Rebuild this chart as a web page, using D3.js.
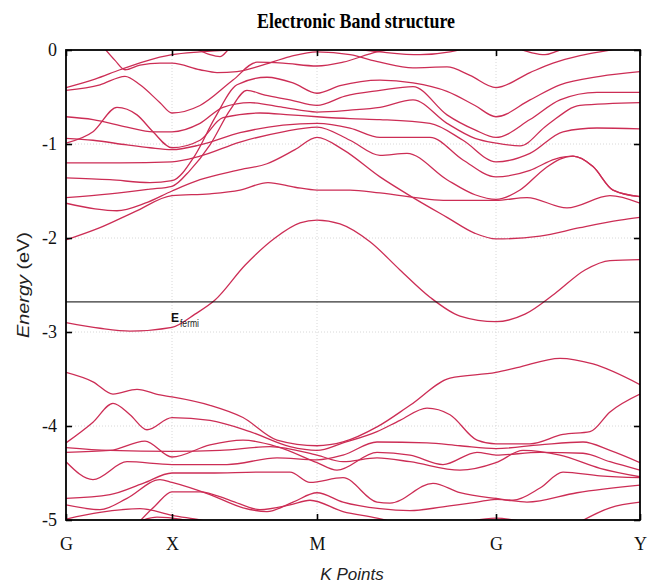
<!DOCTYPE html>
<html><head><meta charset="utf-8">
<script src="https://cdn.jsdelivr.net/npm/d3@7/dist/d3.min.js"></script>
<style>body{margin:0;background:#fff;} svg{display:block;}</style>
</head><body>
<svg id="chart" width="650" height="584"></svg>
<script>
// ---- data ----
const kPointLabels = ["G", "X", "M", "G", "Y"];
const kPointPositions = [0, 1.06, 2.51, 4.30, 5.74];
const energyTicks = [0, -1, -2, -3, -4, -5];
const fermiEnergy = -2.68;

// conduction-side bands: [k, E(eV)]
const conductionBands = [
  [[0,-2.90],[0.34,-2.96],[0.64,-2.99],[1.06,-2.95],[1.29,-2.81],[1.49,-2.66],[1.79,-2.29],[2.09,-2.00],[2.34,-1.84],[2.51,-1.81],[2.74,-1.85],[3.04,-2.04],[3.34,-2.34],[3.64,-2.63],[3.94,-2.83],[4.30,-2.89],[4.59,-2.81],[4.89,-2.59],[5.19,-2.34],[5.44,-2.24],[5.74,-2.23]],
  [[0,-2.02],[0.34,-1.89],[0.69,-1.72],[1.06,-1.55],[1.44,-1.53],[1.74,-1.49],[2.02,-1.41],[2.29,-1.46],[2.51,-1.49],[2.84,-1.49],[3.14,-1.52],[3.81,-1.60],[4.30,-1.60],[4.61,-1.57],[5.01,-1.68],[5.44,-1.55],[5.74,-1.63]],
  [[0,-1.63],[0.29,-1.69],[0.51,-1.71],[0.79,-1.63],[1.06,-1.50],[1.34,-1.38],[1.71,-1.28],[2.01,-1.21],[2.29,-1.06],[2.51,-0.93],[2.77,-1.06],[3.14,-1.35],[3.47,-1.57],[3.81,-1.78],[4.09,-1.95],[4.30,-2.01],[4.74,-1.98],[5.14,-1.89],[5.54,-1.81],[5.74,-1.78]],
  [[0,-1.57],[0.44,-1.53],[0.84,-1.48],[1.06,-1.45],[1.24,-1.28],[1.44,-1.01],[1.64,-0.64],[1.81,-0.43],[1.99,-0.48],[2.24,-0.53],[2.51,-0.59],[2.79,-0.49],[3.14,-0.43],[3.47,-0.39],[3.81,-0.69],[4.09,-0.85],[4.30,-0.93],[4.64,-0.74],[4.94,-0.53],[5.31,-0.45],[5.74,-0.45]],
  [[0,-1.36],[0.44,-1.38],[0.84,-1.41],[1.06,-1.39],[1.29,-1.12],[1.49,-0.72],[1.71,-0.37],[2.01,-0.29],[2.27,-0.35],[2.51,-0.46],[2.74,-0.38],[3.14,-0.32],[3.47,-0.35],[3.81,-0.44],[4.09,-0.59],[4.30,-0.71],[4.64,-0.53],[4.94,-0.37],[5.34,-0.28],[5.74,-0.23]],
  [[0,-0.71],[0.27,-0.74],[0.61,-0.82],[0.87,-0.87],[1.06,-0.87],[1.34,-0.78],[1.57,-0.61],[1.84,-0.56],[2.17,-0.61],[2.51,-0.66],[2.84,-0.64],[3.14,-0.61],[3.47,-0.53],[3.81,-0.78],[4.09,-0.94],[4.30,-0.99],[4.54,-1.02],[4.81,-0.80],[5.14,-0.59],[5.74,-0.56]],
  [[0,-0.99],[0.27,-0.87],[0.51,-0.61],[0.71,-0.69],[0.87,-0.87],[1.06,-1.04],[1.34,-0.96],[1.57,-0.72],[1.94,-0.67],[2.24,-0.69],[2.51,-0.71],[2.84,-0.73],[3.14,-0.74],[3.64,-0.78],[3.97,-0.96],[4.30,-1.19],[4.64,-1.10],[4.97,-0.87],[5.31,-0.83],[5.74,-0.84]],
  [[0,-0.94],[0.27,-0.96],[0.61,-1.01],[0.84,-1.04],[1.06,-1.06],[1.34,-1.01],[1.74,-0.88],[2.17,-0.80],[2.51,-0.78],[2.84,-0.83],[3.14,-0.93],[3.64,-0.93],[3.97,-1.17],[4.30,-1.35],[4.64,-1.28],[4.89,-1.16],[5.07,-1.13],[5.27,-1.24],[5.47,-1.49],[5.74,-1.56]],
  [[0,-1.20],[0.54,-1.20],[1.06,-1.19],[1.34,-1.13],[1.74,-0.98],[2.17,-0.87],[2.51,-0.82],[2.84,-0.96],[3.14,-1.12],[3.41,-1.10],[3.81,-1.38],[4.09,-1.54],[4.30,-1.59],[4.54,-1.49],[4.79,-1.26],[4.94,-1.16],[5.07,-1.13],[5.27,-1.24],[5.47,-1.49],[5.74,-1.56]],
  [[0,-0.43],[0.34,-0.37],[0.59,-0.28],[0.74,-0.37],[0.94,-0.56],[1.06,-0.67],[1.34,-0.59],[1.67,-0.32],[1.91,-0.13],[2.17,-0.14],[2.51,-0.17],[2.77,-0.13],[3.11,-0.02],[3.34,0.02]],
  [[0,-0.40],[0.29,-0.31],[0.54,-0.21],[0.79,-0.12],[1.06,-0.05],[1.34,-0.02],[1.64,0.00],[1.94,0.01]],
  [[0.39,0.01],[0.49,-0.11],[0.59,-0.21],[0.74,-0.16],[0.94,-0.14],[1.06,-0.14],[1.34,-0.21],[1.51,-0.24],[1.71,-0.23],[1.94,-0.17],[2.24,-0.07],[2.51,-0.02],[2.84,-0.05],[3.14,-0.13],[3.47,-0.19],[3.81,-0.18],[4.04,-0.27],[4.30,-0.40],[4.64,-0.24],[4.87,-0.14],[5.14,-0.06],[5.44,0.00],[5.64,0.04]],
  [[2.74,0.03],[3.14,-0.02],[3.54,-0.05],[3.84,-0.02],[4.04,0.03]],
  [[1.29,0.02],[1.44,-0.05],[1.54,-0.07],[1.62,0.00],[1.66,0.04]],
  [[4.56,0.00],[4.66,-0.03],[4.79,-0.05],[4.89,-0.02],[4.99,0.02]]
];

// valence-side bands: [k, E(eV)]
const valenceBands = [
  [[0,-3.43],[0.27,-3.53],[0.47,-3.66],[0.71,-3.61],[0.94,-3.67],[1.06,-3.69],[1.44,-3.78],[1.77,-3.91],[2.11,-4.15],[2.51,-4.21],[2.77,-4.17],[3.11,-4.01],[3.44,-3.78],[3.84,-3.49],[4.30,-3.43],[4.51,-3.38],[4.94,-3.28],[5.27,-3.34],[5.74,-3.56]],
  [[0,-4.18],[0.27,-3.96],[0.47,-3.76],[0.64,-3.88],[0.81,-4.04],[1.06,-3.91],[1.44,-3.94],[1.84,-4.06],[2.24,-4.22],[2.51,-4.26],[2.77,-4.18],[3.11,-4.06],[3.34,-3.94],[3.61,-3.81],[3.84,-3.88],[4.11,-4.15],[4.30,-4.19],[4.64,-4.19],[4.97,-4.09],[5.24,-4.06],[5.44,-3.85],[5.74,-3.66]],
  [[0,-4.23],[0.44,-4.26],[1.06,-4.27],[1.54,-4.26],[2.04,-4.22],[2.51,-4.31],[2.77,-4.38],[3.11,-4.34],[3.44,-4.38],[3.94,-4.47],[4.30,-4.39],[4.57,-4.26],[4.94,-4.31],[5.34,-4.45],[5.74,-4.54]],
  [[0,-4.28],[0.44,-4.26],[0.79,-4.16],[1.06,-4.33],[1.44,-4.20],[1.77,-4.15],[2.11,-4.22],[2.51,-4.39],[2.71,-4.47],[3.11,-4.28],[3.44,-4.31],[3.77,-4.41],[4.11,-4.28],[4.30,-4.31],[4.74,-4.28],[5.17,-4.29],[5.44,-4.38],[5.74,-4.47]],
  [[0,-4.38],[0.27,-4.57],[0.61,-4.38],[1.06,-4.41],[1.61,-4.41],[2.11,-4.34],[2.51,-4.36],[2.77,-4.31],[3.11,-4.17],[3.61,-4.18],[3.94,-4.21],[4.30,-4.24],[4.74,-4.20],[5.17,-4.17],[5.44,-4.26],[5.74,-4.39]],
  [[0,-4.77],[0.44,-4.73],[0.77,-4.61],[1.06,-4.50],[1.44,-4.50],[1.94,-4.49],[2.24,-4.49],[2.44,-4.60],[2.77,-4.55],[3.11,-4.81],[3.24,-4.82],[3.67,-4.61],[3.94,-4.71],[4.30,-4.77],[4.47,-4.79],[4.74,-4.66],[4.97,-4.49],[5.34,-4.53],[5.74,-4.55]],
  [[0,-4.84],[0.34,-4.89],[0.61,-4.77],[0.94,-4.57],[1.06,-4.60],[1.44,-4.73],[1.77,-4.87],[2.01,-4.91],[2.27,-4.81],[2.51,-4.71],[2.77,-4.81],[3.14,-4.88],[3.44,-4.90],[3.77,-4.86],[4.11,-4.81],[4.30,-4.78],[4.61,-4.81],[5.11,-4.71],[5.74,-4.63]],
  [[0,-4.99],[0.34,-4.92],[0.74,-4.88],[1.06,-4.95],[1.34,-5.00],[1.44,-5.02]],
  [[0.74,-5.01],[0.89,-4.85],[1.06,-4.70],[1.34,-4.70],[1.64,-4.79],[1.94,-4.89],[2.24,-4.84],[2.44,-4.79],[2.77,-4.91],[3.11,-4.98],[3.34,-5.04]],
  [[5.14,-5.02],[5.44,-4.87],[5.74,-4.81]],
  [[4.04,-5.01],[4.30,-4.98],[4.54,-5.01]],
  [[0.77,-5.00],[0.91,-4.97],[1.14,-4.99],[1.24,-5.01]]
];

// ---- drawing ----
const svg = d3.select("#chart");
const mLeft = 66, mRight = 640, mTop = 50, mBottom = 520;
const x = d3.scaleLinear().domain([0, 5.74]).range([mLeft, mRight]);
const y = d3.scaleLinear().domain([-5, 0]).range([mBottom, mTop]);

svg.append("defs").append("clipPath").attr("id", "plotClip")
  .append("rect").attr("x", mLeft).attr("y", mTop).attr("width", mRight - mLeft).attr("height", mBottom - mTop);

// grid
const grid = svg.append("g");
grid.selectAll("line.gy").data(energyTicks.filter(d => d !== 0 && d !== -5)).enter().append("line")
  .attr("x1", mLeft).attr("x2", mRight).attr("y1", d => y(d)).attr("y2", d => y(d))
  .attr("stroke", "#d8d8d8").attr("stroke-width", 1).attr("stroke-dasharray", "1,2");
grid.selectAll("line.gx").data(kPointPositions.slice(1, -1)).enter().append("line")
  .attr("y1", mTop).attr("y2", mBottom).attr("x1", d => x(d)).attr("x2", d => x(d))
  .attr("stroke", "#d8d8d8").attr("stroke-width", 1).attr("stroke-dasharray", "1,2");

// bands
const line = d3.line().x(d => x(d[0])).y(d => y(d[1])).curve(d3.curveMonotoneX);
const bandsG = svg.append("g").attr("clip-path", "url(#plotClip)");
bandsG.selectAll("path.band").data(conductionBands.concat(valenceBands)).enter().append("path")
  .attr("d", line).attr("fill", "none").attr("stroke", "#cc2d55").attr("stroke-width", 1.3);

// fermi level
svg.append("line").attr("x1", mLeft).attr("x2", mRight).attr("y1", y(fermiEnergy)).attr("y2", y(fermiEnergy))
  .attr("stroke", "#000").attr("stroke-width", 1);
svg.append("text").attr("x", 171).attr("y", 322)
  .attr("font-family", "Liberation Sans, Arial, sans-serif").attr("font-weight", "bold").attr("font-size", 12)
  .attr("fill", "#111").text("E");
svg.append("text").attr("x", 180).attr("y", 326.5).attr("font-family", "Liberation Sans, Arial, sans-serif")
  .attr("font-size", 10).attr("fill", "#222").attr("textLength", 19).attr("lengthAdjust", "spacingAndGlyphs").text("fermi");

// axes
const serif = "Liberation Serif, Times New Roman, serif";
const yLeftAx = svg.append("g").attr("transform", `translate(${mLeft},0)`)
  .call(d3.axisLeft(y).tickValues(energyTicks).tickSize(-6).tickPadding(9).tickFormat(d => String(d)));
const yRightAx = svg.append("g").attr("transform", `translate(${mRight},0)`)
  .call(d3.axisRight(y).tickValues(energyTicks).tickSize(-6).tickFormat(""));
const xBottomAx = svg.append("g").attr("transform", `translate(0,${mBottom})`)
  .call(d3.axisBottom(x).tickValues(kPointPositions).tickSize(-6).tickPadding(17).tickFormat((d, i) => kPointLabels[i]));
const xTopAx = svg.append("g").attr("transform", `translate(0,${mTop})`)
  .call(d3.axisTop(x).tickValues(kPointPositions).tickSize(-6).tickFormat(""));
[yLeftAx, yRightAx, xBottomAx, xTopAx].forEach(g => {
  g.select(".domain").remove();
  g.selectAll(".tick line").attr("stroke", "#000").attr("stroke-width", 1.6);
  g.selectAll(".tick text").attr("font-family", serif).attr("font-size", 18).attr("fill", "#111");
});

// frame
svg.append("rect").attr("x", mLeft).attr("y", mTop).attr("width", mRight - mLeft).attr("height", mBottom - mTop)
  .attr("fill", "none").attr("stroke", "#000").attr("stroke-width", 1.8);

// titles
svg.append("text").attr("x", 356).attr("y", 28).attr("text-anchor", "middle")
  .attr("font-family", serif).attr("font-weight", "bold").attr("font-size", 22)
  .attr("textLength", 198).attr("lengthAdjust", "spacingAndGlyphs").text("Electronic Band structure");

svg.append("text").attr("x", 352).attr("y", 580).attr("text-anchor", "middle")
  .attr("font-family", "Liberation Sans, Arial, sans-serif").attr("font-style", "italic").attr("font-size", 17)
  .attr("fill", "#222").text("K Points");

const yt = svg.append("text").attr("transform", "translate(29,285) rotate(-90)").attr("text-anchor", "middle")
  .attr("font-family", "Liberation Sans, Arial, sans-serif").attr("font-size", 16).attr("fill", "#222")
  .attr("textLength", 106).attr("lengthAdjust", "spacingAndGlyphs");
yt.append("tspan").attr("font-style", "italic").text("Energy ");
yt.append("tspan").text("(eV)");
</script>
</body></html>
